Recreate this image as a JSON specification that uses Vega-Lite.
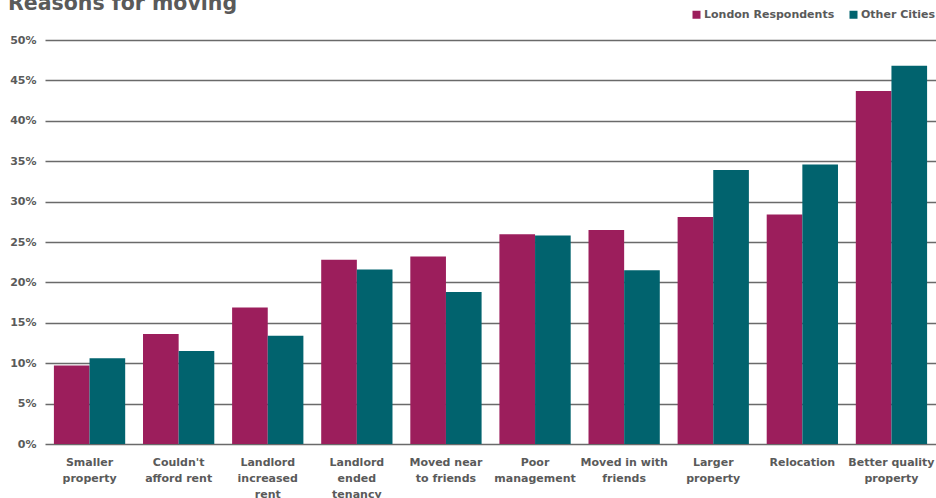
{
  "$schema": "https://vega.github.io/schema/vega-lite/v6.json",
  "autosize": {"type": "none"},
  "width": 891,
  "height": 404,
  "padding": {"left": 45, "top": 40, "right": 0, "bottom": 54},
  "background": "white",
  "title": {
    "text": "Reasons for moving",
    "anchor": "start",
    "frame": "group",
    "orient": "top",
    "fontSize": 20.5,
    "font": "DejaVu Sans",
    "fontWeight": "bold",
    "color": "#5a5a5a",
    "baseline": "alphabetic",
    "offset": 0,
    "dx": -37,
    "dy": 21
  },
  "data": {
    "values": [
      {"reason": "Smaller\nproperty", "group": "London Respondents", "pct": 9.7},
      {"reason": "Smaller\nproperty", "group": "Other Cities", "pct": 10.6},
      {"reason": "Couldn't\nafford rent", "group": "London Respondents", "pct": 13.6},
      {"reason": "Couldn't\nafford rent", "group": "Other Cities", "pct": 11.5},
      {"reason": "Landlord\nincreased\nrent", "group": "London Respondents", "pct": 16.9},
      {"reason": "Landlord\nincreased\nrent", "group": "Other Cities", "pct": 13.4},
      {"reason": "Landlord\nended\ntenancy", "group": "London Respondents", "pct": 22.8},
      {"reason": "Landlord\nended\ntenancy", "group": "Other Cities", "pct": 21.6},
      {"reason": "Moved near\nto friends", "group": "London Respondents", "pct": 23.2},
      {"reason": "Moved near\nto friends", "group": "Other Cities", "pct": 18.8},
      {"reason": "Poor\nmanagement", "group": "London Respondents", "pct": 25.95},
      {"reason": "Poor\nmanagement", "group": "Other Cities", "pct": 25.8},
      {"reason": "Moved in with\nfriends", "group": "London Respondents", "pct": 26.5},
      {"reason": "Moved in with\nfriends", "group": "Other Cities", "pct": 21.5},
      {"reason": "Larger\nproperty", "group": "London Respondents", "pct": 28.1},
      {"reason": "Larger\nproperty", "group": "Other Cities", "pct": 33.9},
      {"reason": "Relocation", "group": "London Respondents", "pct": 28.4},
      {"reason": "Relocation", "group": "Other Cities", "pct": 34.6},
      {"reason": "Better quality\nproperty", "group": "London Respondents", "pct": 43.7},
      {"reason": "Better quality\nproperty", "group": "Other Cities", "pct": 46.8}
    ]
  },
  "mark": {"type": "bar"},
  "encoding": {
    "x": {
      "field": "reason",
      "type": "nominal",
      "sort": null,
      "scale": {"paddingInner": 0.2, "paddingOuter": 0.1},
      "axis": {
        "title": null,
        "labelAngle": 0,
        "domain": false,
        "ticks": false,
        "labelExpr": "split(datum.value, '\\n')",
        "labelFont": "DejaVu Sans",
        "labelFontWeight": "bold",
        "labelFontSize": 11,
        "labelColor": "#5a5a5a",
        "labelLineHeight": 16,
        "labelPadding": 12,
        "labelBaseline": "top"
      }
    },
    "xOffset": {"field": "group", "type": "nominal", "sort": ["London Respondents", "Other Cities"]},
    "y": {
      "field": "pct",
      "type": "quantitative",
      "scale": {"domain": [0, 50], "nice": false},
      "axis": {
        "title": null,
        "values": [0, 5, 10, 15, 20, 25, 30, 35, 40, 45, 50],
        "labelExpr": "datum.value + '%'",
        "domain": false,
        "ticks": false,
        "grid": true,
        "gridColor": "#6a6a6a",
        "gridWidth": 1.5,
        "labelFont": "DejaVu Sans",
        "labelFontWeight": "bold",
        "labelFontSize": 11,
        "labelColor": "#5a5a5a",
        "labelPadding": 9
      }
    },
    "color": {
      "field": "group",
      "type": "nominal",
      "scale": {"domain": ["London Respondents", "Other Cities"], "range": ["#9c1e5c", "#01636e"]},
      "legend": {
        "title": null,
        "orient": "none",
        "direction": "horizontal",
        "legendX": 646,
        "legendY": -31,
        "symbolType": "square",
        "symbolSize": 64,
        "symbolStrokeWidth": 0,
        "labelFont": "DejaVu Sans",
        "labelFontWeight": "bold",
        "labelFontSize": 11,
        "labelColor": "#5a5a5a",
        "labelOffset": 2,
        "columnPadding": 13
      }
    }
  },
  "config": {"view": {"stroke": null}}
}
